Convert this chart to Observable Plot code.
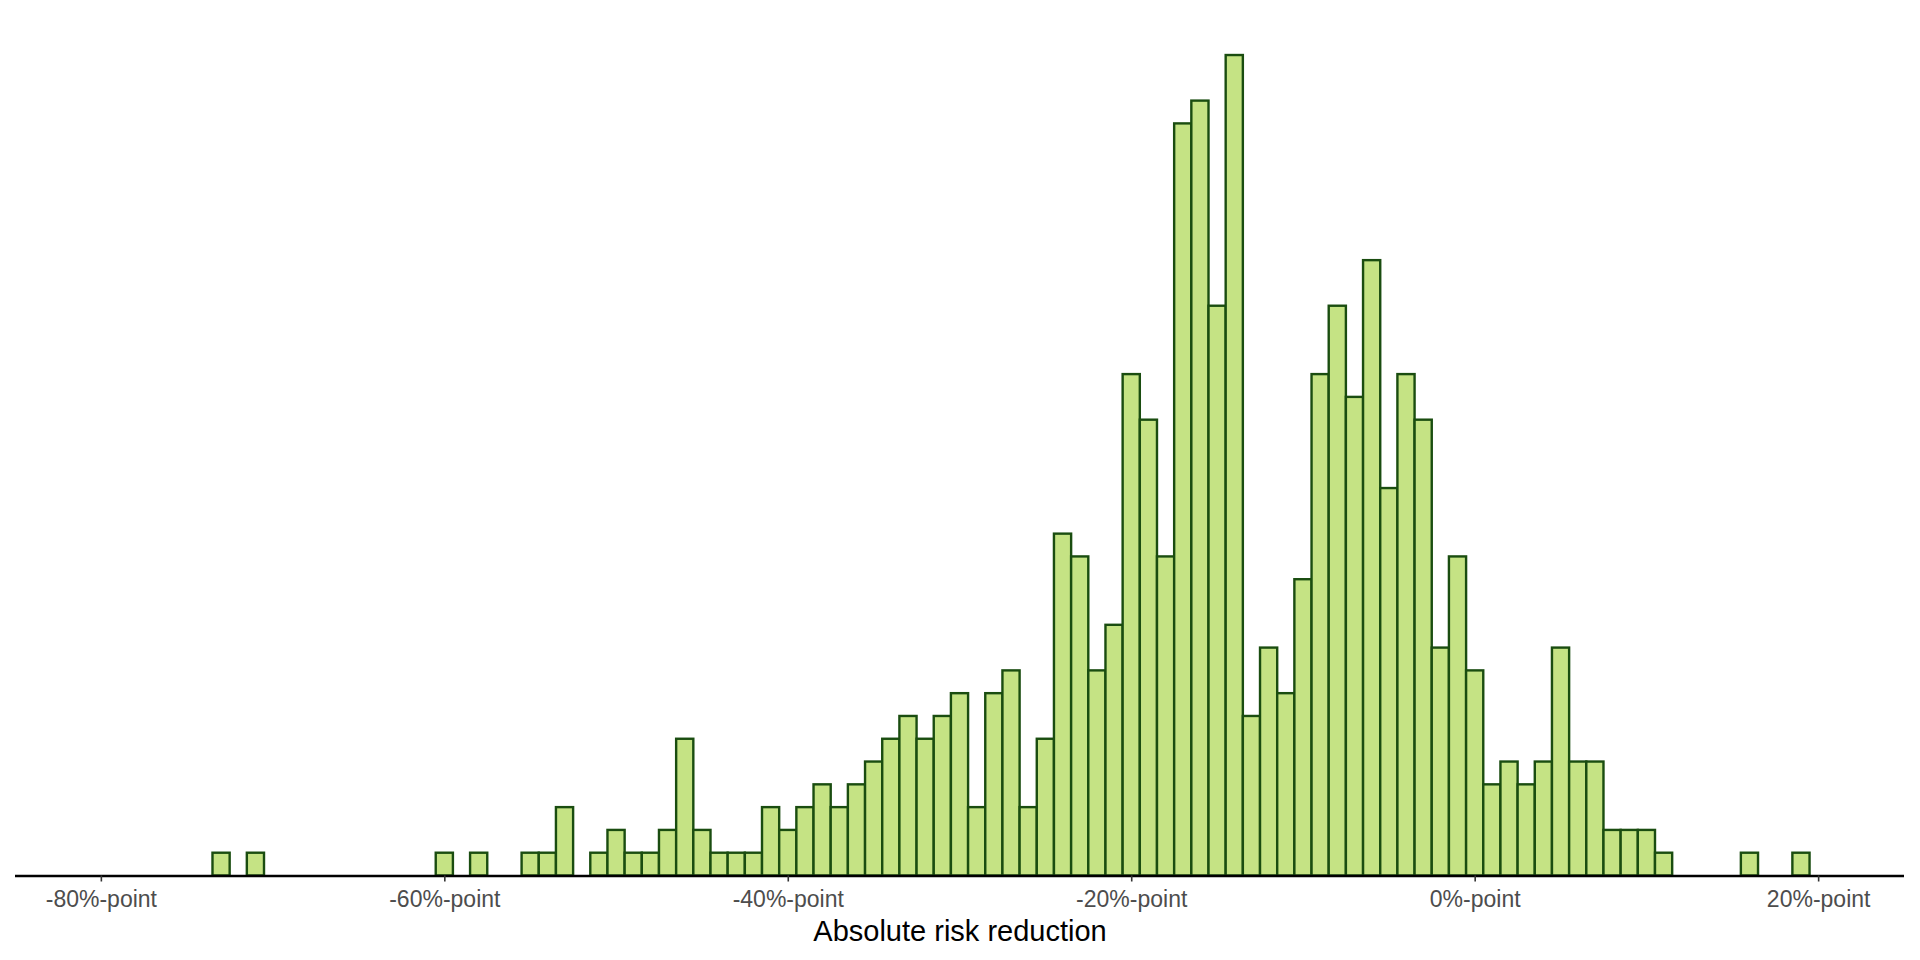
<!DOCTYPE html>
<html>
<head>
<meta charset="utf-8">
<script src="https://cdn.jsdelivr.net/npm/d3@7"></script>
<script src="https://cdn.jsdelivr.net/npm/@observablehq/plot@0.6"></script>
<style>
  html, body { margin: 0; padding: 0; background: #ffffff; }
  #chart svg { display: block; }
</style>
</head>
<body>
<div id="chart"></div>
<script>
// Bin centres (percentage points, 1-point wide bins) and counts
const binCenters = [-73, -71, -60, -58, -55, -54, -53, -51, -50, -49, -48, -47, -46, -45, -44, -43, -42,
  -41, -40, -39, -38, -37, -36, -35, -34, -33, -32, -31, -30, -29, -28, -27, -26, -25, -24, -23, -22,
  -21, -20, -19, -18, -17, -16, -15, -14, -13, -12, -11, -10, -9, -8, -7, -6, -5, -4, -3, -2, -1,
  0, 1, 2, 3, 4, 5, 6, 7, 8, 9, 10, 11, 16, 19];
const binCounts = [1, 1, 1, 1, 1, 1, 3, 1, 2, 1, 1, 2, 6, 2, 1, 1, 1,
  3, 2, 3, 4, 3, 4, 5, 6, 7, 6, 7, 8, 3, 8, 9, 3, 6, 15, 14, 9,
  11, 22, 20, 14, 33, 34, 25, 36, 7, 10, 8, 13, 22, 25, 21, 27, 17, 22, 20, 10, 14,
  9, 4, 5, 4, 5, 10, 5, 5, 2, 2, 2, 1, 1, 1];
const binWidth = 1;
const xTicks = [-80, -60, -40, -20, 0, 20];
const xTitle = "Absolute risk reduction";

const bins = binCenters.map((c, i) => ({lo: c - binWidth / 2, hi: c + binWidth / 2, count: binCounts[i]}));

const chart = Plot.plot({
  width: 1920,
  height: 960,
  marginLeft: 15,
  marginRight: 16,
  marginTop: 14,
  marginBottom: 84.5,
  style: {fontFamily: "'Liberation Sans', Arial, sans-serif", background: "#ffffff"},
  x: {domain: [-85, 25]},
  y: {domain: [0, 37.8], axis: null},
  marks: [
    Plot.rectY(bins, {
      x1: "lo", x2: "hi", y: "count",
      fill: "#c5e384", stroke: "#1a4d10", strokeWidth: 2.4, inset: 0
    }),
    Plot.ruleY([0], {stroke: "#000000", strokeWidth: 2.5}),
    Plot.axisX({
      ticks: xTicks,
      tickFormat: d => `${d}%-point`,
      tickSize: 6,
      tickPadding: 9,
      fontSize: 23,
      color: "#4d4d4d",
      stroke: "#333333",
      strokeWidth: 1.6,
      label: null
    }),
    Plot.text([xTitle], {
      frameAnchor: "bottom",
      lineAnchor: "bottom",
      dy: 64.5,
      fontSize: 29,
      fill: "#000000"
    })
  ]
});
document.getElementById("chart").appendChild(chart);
</script>
</body>
</html>
